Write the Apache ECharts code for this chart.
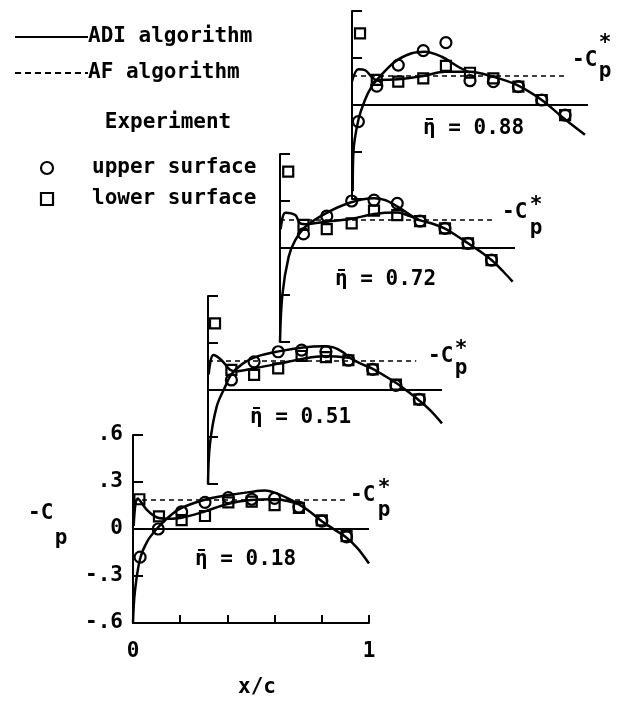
<!DOCTYPE html>
<html><head><meta charset="utf-8">
<script src="https://cdn.jsdelivr.net/npm/echarts@6/dist/echarts.min.js"></script>
<style>html,body{margin:0;padding:0;background:#fff}#c{width:620px;height:704px}</style>
</head><body><div id="c"></div>
<script>
// ---- data (x/c, -Cp) ----
const etaLabels = ['0.18', '0.51', '0.72', '0.88'];
const cpStar = [0.185, 0.187, 0.183, 0.185];
const cpStarEnd = [0.91, 0.89, 0.91, 0.91];
const yTicks = [-0.6, -0.3, 0, 0.3, 0.6];
const yTickLabels = ['-.6', '-.3', '0', '.3', '.6'];
const xTickLabels = ['0', '1'];

const adiUpper1 = [[0,-0.6],[0.008,-0.4],[0.03,-0.19],[0.06,-0.08],[0.1,0.0],[0.15,0.075],[0.2,0.13],[0.3,0.185],[0.4,0.215],[0.5,0.237],[0.56,0.245],[0.6,0.232],[0.65,0.2],[0.7,0.16],[0.75,0.11],[0.8,0.05],[0.85,0.0],[0.9,-0.05],[0.95,-0.12],[1.0,-0.22]];
const adiLower1 = [[0.003,0.02],[0.02,0.195],[0.06,0.12],[0.1,0.075],[0.15,0.065],[0.2,0.07],[0.3,0.11],[0.4,0.16],[0.5,0.185],[0.6,0.19],[0.65,0.18],[0.7,0.16]];
const adiUpper2 = [[0,-0.6],[0.008,-0.35],[0.037,-0.106],[0.073,0.02],[0.1,0.1],[0.15,0.17],[0.208,0.213],[0.308,0.248],[0.407,0.272],[0.49,0.28],[0.536,0.272],[0.578,0.24],[0.607,0.205],[0.65,0.17],[0.7,0.138],[0.75,0.095],[0.806,0.043],[0.85,-0.005],[0.9,-0.064],[0.95,-0.13],[1.0,-0.213]];
const adiLower2 = [[0.003,0.1],[0.023,0.223],[0.058,0.19],[0.094,0.13],[0.12,0.12],[0.194,0.138],[0.308,0.17],[0.407,0.2],[0.493,0.215],[0.56,0.213],[0.607,0.205]];
const adiUpper3 = [[0,-0.6],[0.01,-0.3],[0.037,-0.055],[0.065,0.05],[0.108,0.136],[0.193,0.22],[0.3,0.29],[0.4,0.317],[0.448,0.306],[0.5,0.264],[0.55,0.215],[0.59,0.18],[0.65,0.155],[0.7,0.125],[0.75,0.08],[0.8,0.03],[0.85,-0.02],[0.9,-0.077],[0.95,-0.15],[0.99,-0.215]];
const adiLower3 = [[0.003,0.12],[0.023,0.225],[0.065,0.21],[0.086,0.157],[0.11,0.152],[0.193,0.168],[0.3,0.185],[0.4,0.217],[0.5,0.226],[0.55,0.205],[0.59,0.18]];
const adiUpper4 = [[0.003,-0.55],[0.006,-0.3],[0.027,-0.096],[0.055,0.032],[0.083,0.117],[0.111,0.17],[0.182,0.276],[0.253,0.33],[0.309,0.34],[0.38,0.308],[0.45,0.244],[0.5,0.206]];
const adiLower4 = [[0,0.15],[0.027,0.228],[0.055,0.223],[0.083,0.18],[0.105,0.16],[0.196,0.164],[0.302,0.185],[0.394,0.213],[0.5,0.213],[0.599,0.18],[0.698,0.128],[0.804,0.032],[0.889,-0.075],[0.987,-0.19]];

const expUpper1 = [[0.03,-0.18],[0.107,0.0],[0.206,0.11],[0.305,0.17],[0.404,0.2],[0.503,0.19],[0.6,0.195],[0.703,0.14],[0.8,0.05],[0.905,-0.05]];
const expLower1 = [[0.027,0.19],[0.11,0.08],[0.206,0.057],[0.305,0.083],[0.404,0.17],[0.503,0.175],[0.6,0.153],[0.703,0.135],[0.8,0.055],[0.905,-0.045]];
const expUpper2 = [[0.1,0.064],[0.197,0.18],[0.3,0.244],[0.4,0.255],[0.504,0.245],[0.6,0.19],[0.704,0.132],[0.803,0.03],[0.903,-0.06]];
const expLower2 = [[0.03,0.425],[0.1,0.128],[0.197,0.096],[0.3,0.138],[0.4,0.217],[0.504,0.21],[0.6,0.19],[0.704,0.132],[0.803,0.035],[0.903,-0.06]];
const expUpper3 = [[0.1,0.09],[0.199,0.204],[0.305,0.3],[0.4,0.306],[0.499,0.285],[0.596,0.172],[0.702,0.125],[0.8,0.03],[0.9,-0.077]];
const expLower3 = [[0.035,0.487],[0.1,0.147],[0.199,0.12],[0.305,0.157],[0.4,0.238],[0.499,0.21],[0.596,0.172],[0.702,0.125],[0.8,0.03],[0.9,-0.077]];
const expUpper4 = [[0.027,-0.106],[0.105,0.121],[0.196,0.255],[0.302,0.347],[0.398,0.398],[0.5,0.155],[0.599,0.149],[0.705,0.117],[0.804,0.032],[0.903,-0.064]];
const expLower4 = [[0.034,0.457],[0.105,0.16],[0.196,0.149],[0.302,0.17],[0.398,0.25],[0.5,0.206],[0.599,0.17],[0.705,0.117],[0.804,0.032],[0.903,-0.064]];

const adiUpper = [adiUpper1, adiUpper2, adiUpper3, adiUpper4];
const adiLower = [adiLower1, adiLower2, adiLower3, adiLower4];
const expUpper = [expUpper1, expUpper2, expUpper3, expUpper4];
const expLower = [expLower1, expLower2, expLower3, expLower4];

// ---- layout ----
const FONT = "'DejaVu Sans Mono', 'Liberation Mono', monospace";
const FW = 'bold ';
const grids = [
  {left: 133, top: 435, width: 236, height: 188},
  {left: 208, top: 296, width: 234, height: 188},
  {left: 280, top: 154, width: 235, height: 188},
  {left: 352, top: 11, width: 236, height: 188}
];
const etaPos = [[195,560],[250,418],[335,280],[423,129]];
const cstarPos = [[350,496,384,489,384,511],[428,357,461,350,461,369],[502,213,536,206,536,229],[572,61,605,44,605,72]];

const chart = echarts.init(document.getElementById('c'), null, {renderer: 'canvas'});
const xAxes = [], yAxes = [], series = [];
grids.forEach((g, i) => {
  xAxes.push({
    type: 'value', gridIndex: i, min: 0, max: 1, interval: 0.2, show: i === 0,
    axisLine: {show: true, onZero: false, lineStyle: {color: '#000', width: 2}},
    axisTick: {show: true, inside: true, length: 8, lineStyle: {color: '#000', width: 2}},
    axisLabel: {show: true, margin: 18, color: '#000', fontSize: 21, fontWeight: 'bold', fontFamily: FONT,
      formatter: v => (Math.abs(v) < 1e-9 ? xTickLabels[0] : (Math.abs(v - 1) < 1e-9 ? xTickLabels[1] : ''))},
    splitLine: {show: false}
  });
  yAxes.push({
    type: 'value', gridIndex: i, min: -0.6, max: 0.6, interval: 0.3,
    axisLine: {show: true, onZero: false, lineStyle: {color: '#000', width: 2}},
    axisTick: {show: true, inside: true, length: 10, lineStyle: {color: '#000', width: 2}},
    axisLabel: {show: i === 0, margin: 10, color: '#000', fontSize: 21, fontWeight: 'bold', fontFamily: FONT,
      formatter: v => { const k = yTicks.findIndex(t => Math.abs(t - v) < 1e-6); return k >= 0 ? yTickLabels[k] : ''; }},
    splitLine: {show: false}
  });
  const lineBase = {type: 'line', xAxisIndex: i, yAxisIndex: i, smooth: 0.35, showSymbol: false, symbol: 'none',
    lineStyle: {color: '#000', width: 2.5}, silent: true, z: 3};
  series.push(Object.assign({}, lineBase, {
    data: adiUpper[i],
    markLine: {symbol: 'none', silent: true, label: {show: false},
      data: [
        {yAxis: 0, lineStyle: {color: '#000', width: 2, type: 'solid'}},
        [{coord: [0, cpStar[i]], lineStyle: {color: '#000', width: 1.5, type: [5, 4]}}, {coord: [cpStarEnd[i], cpStar[i]]}]
      ]}
  }));
  series.push(Object.assign({}, lineBase, {data: adiLower[i]}));
  series.push({type: 'scatter', xAxisIndex: i, yAxisIndex: i, data: expUpper[i], symbol: 'circle', symbolSize: 11, z: 4,
    itemStyle: {color: 'rgba(255,255,255,0)', borderColor: '#000', borderWidth: 2.2, opacity: 1}});
  series.push({type: 'scatter', xAxisIndex: i, yAxisIndex: i, data: expLower[i], symbol: 'rect', symbolSize: 10, z: 4,
    itemStyle: {color: 'rgba(255,255,255,0)', borderColor: '#000', borderWidth: 2.2, opacity: 1}});
});

const txt = (x, y, s, align) => ({type: 'text', x: x, y: y,
  style: {text: s, fill: '#000', font: FW + '21px ' + FONT, textVerticalAlign: 'middle', textAlign: align || 'left'}});
const graphics = [
  {type: 'line', shape: {x1: 15, y1: 37, x2: 88, y2: 37}, style: {stroke: '#000', lineWidth: 2}},
  txt(88, 37, 'ADI algorithm'),
  {type: 'line', shape: {x1: 15, y1: 73, x2: 88, y2: 73}, style: {stroke: '#000', lineWidth: 2, lineDash: [6, 4]}},
  txt(88, 73, 'AF algorithm'),
  txt(168, 123, 'Experiment', 'center'),
  {type: 'circle', shape: {cx: 47, cy: 168, r: 6}, style: {fill: 'none', stroke: '#000', lineWidth: 2.2}},
  txt(92, 168, 'upper surface'),
  {type: 'rect', shape: {x: 41, y: 193, width: 12, height: 12}, style: {fill: 'none', stroke: '#000', lineWidth: 2.2}},
  txt(92, 199, 'lower surface'),
  txt(28, 514, '-C'),
  txt(61, 539, 'p', 'center'),
  txt(257, 688, 'x/c', 'center'),
];
etaLabels.forEach((e, i) => {
  const p = etaPos[i];
  graphics.push(txt(p[0], p[1], '\u03B7 = ' + e));
  graphics.push({type: 'line', shape: {x1: p[0] + 3, y1: p[1] - 10, x2: p[0] + 10, y2: p[1] - 10}, style: {stroke: '#000', lineWidth: 2}});
  const c = cstarPos[i];
  graphics.push(txt(c[0], c[1], '-C'));
  graphics.push(txt(c[2], c[3], '*', 'center'));
  graphics.push(txt(c[4], c[5], 'p', 'center'));
});

chart.setOption({
  animation: false,
  backgroundColor: '#fff',
  grid: grids.map(g => Object.assign({containLabel: false}, g)),
  xAxis: xAxes,
  yAxis: yAxes,
  series: series,
  graphic: graphics
});
</script></body></html>
